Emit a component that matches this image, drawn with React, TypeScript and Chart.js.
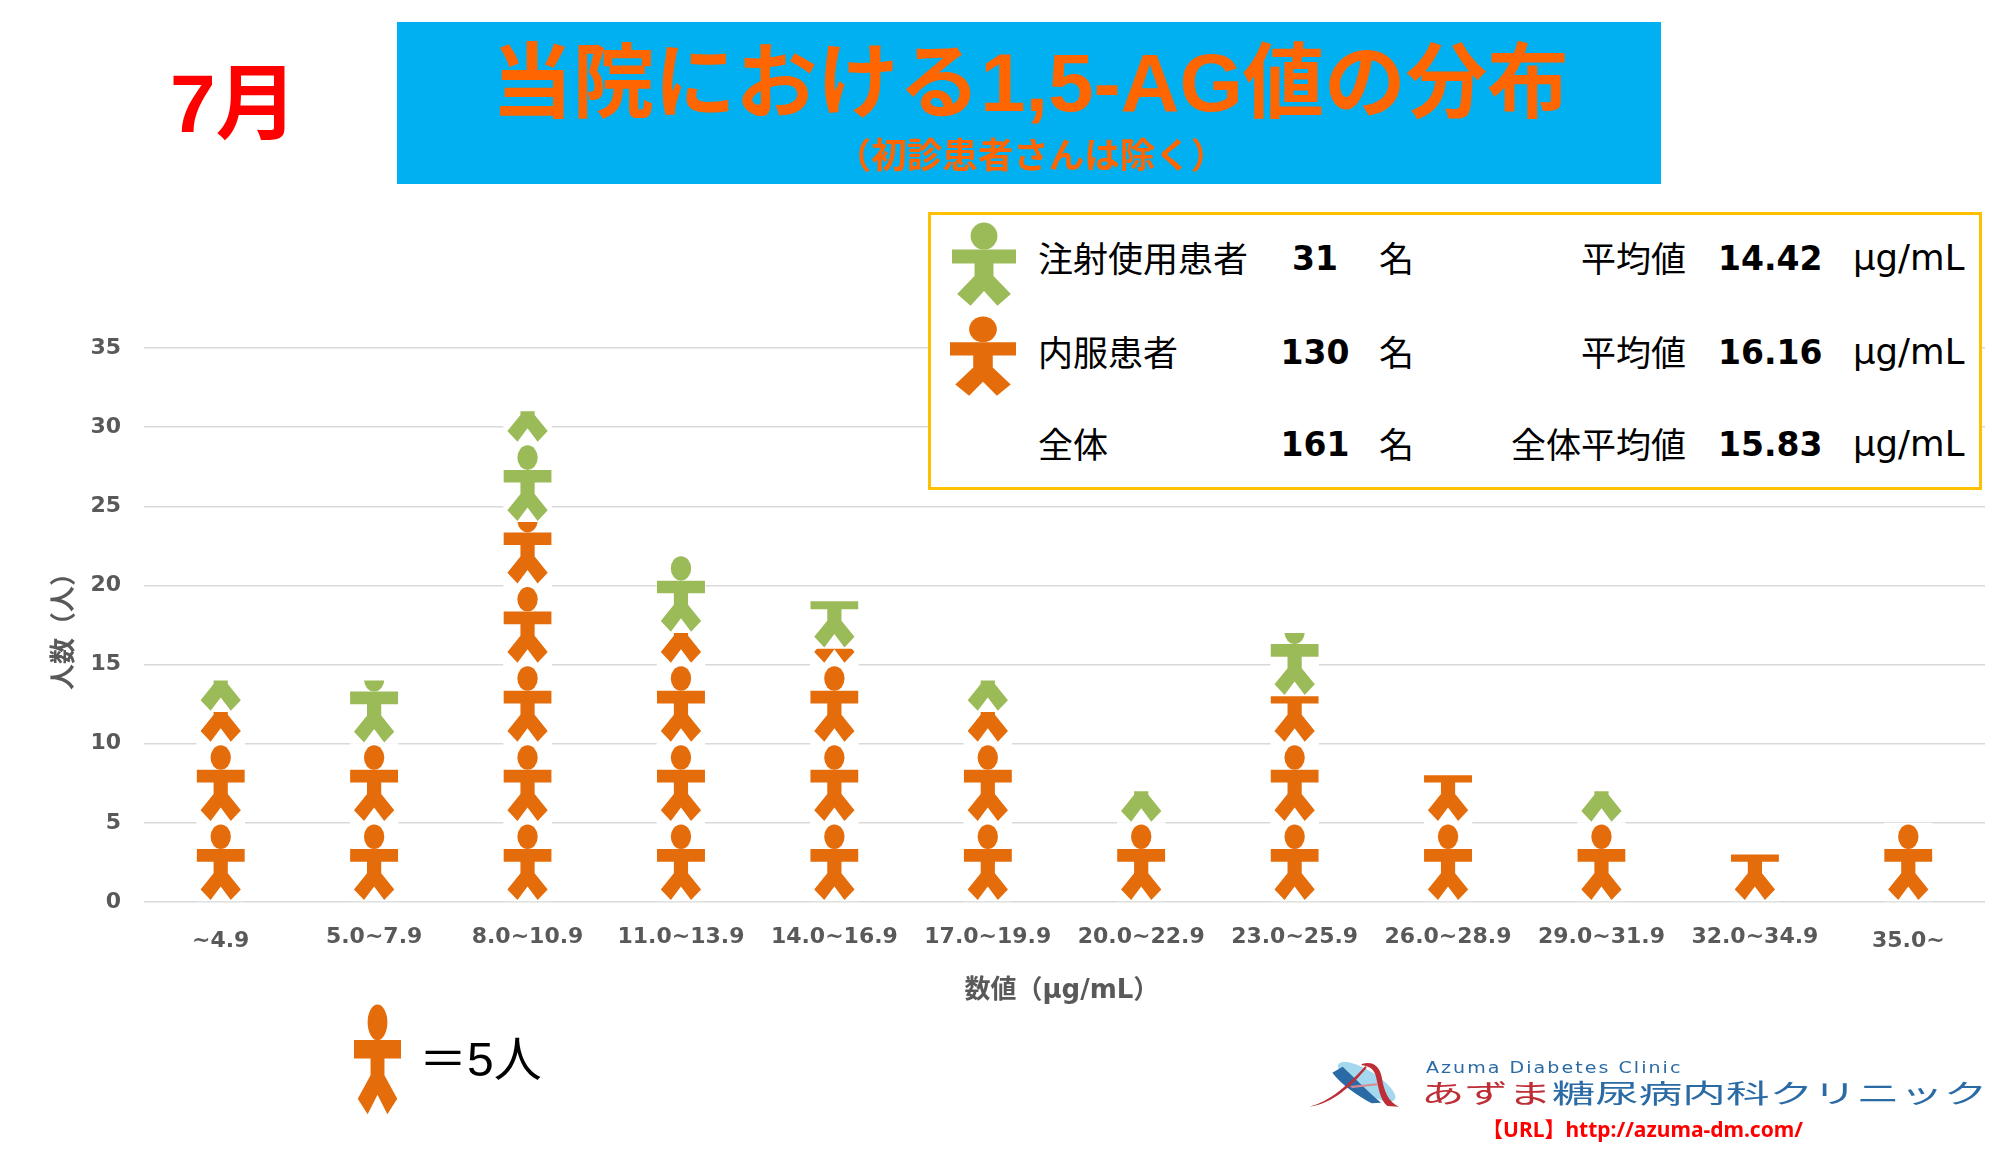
import React, { useEffect, useRef } from "react";
import { Chart, registerables } from "chart.js";

Chart.register(...registerables);

const categories = ["~4.9", "5.0~7.9", "8.0~10.9", "11.0~13.9", "14.0~16.9", "17.0~19.9", "20.0~22.9", "23.0~25.9", "26.0~28.9", "29.0~31.9", "32.0~34.9", "35.0~"];
const oralPatients = [12, 10, 24, 17, 16, 12, 5, 13, 8, 5, 3, 5];
const injectionPatients = [2, 4, 7, 5, 3, 2, 2, 4, 0, 2, 0, 0];
const yTicksMax = 35;
const yTickStep = 5;
const unitPerIcon = 5;

const ORANGE = "#E46C0A";
const GREEN = "#9BBB59";
const CJK = '"Noto Sans CJK JP"';
const LATIN_BOLD = '"DejaVu Sans"';

const summaryRows = [
  { label: "注射使用患者", count: "31", meanLabel: "平均値", mean: "14.42", y: 258 },
  { label: "内服患者", count: "130", meanLabel: "平均値", mean: "16.16", y: 352 },
  { label: "全体", count: "161", meanLabel: "全体平均値", mean: "15.83", y: 444 },
];

// Icon outline, unit cell: u -0.5..0.5 across, w 0..1 downward
const BODY: [number, number][] = [
  [-0.5, 0.34], [0.5, 0.34], [0.5, 0.5], [0.148, 0.5], [0.148, 0.645], [0.42, 0.85], [0.21, 0.985],
  [0, 0.815], [-0.21, 0.985], [-0.42, 0.85], [-0.148, 0.645], [-0.148, 0.5], [-0.5, 0.5],
];
const HEAD = { cy: 0.185, rx: 0.21, ry: 0.155 };

const iconPlugin = {
  id: "iconStack",
  beforeDraw(chart: any) {
    const items = chart.scales.x.getLabelItems(chart.chartArea);
    if (!items.__shifted) {
      items.__shifted = true;
      [0, items.length - 1].forEach((i: number) => {
        items[i].options.translation = [items[i].options.translation[0], items[i].options.translation[1] + 4];
      });
    }
  },
  afterDatasetsDraw(chart: any) {
    const { ctx, scales } = chart;
    const unit = Math.abs(scales.y.getPixelForValue(unitPerIcon) - scales.y.getPixelForValue(0));
    chart.data.datasets.forEach((ds: any, di: number) => {
      chart.getDatasetMeta(di).data.forEach((bar: any) => {
        const { x, y, base, width } = bar.getProps(["x", "y", "base", "width"], true);
        if (base - y < 0.5) return;
        ctx.save();
        ctx.beginPath();
        ctx.rect(x - width / 2, y, width, base - y);
        ctx.clip();
        ctx.fillStyle = ds.iconColor;
        for (let k = 0; base - k * unit > y; k++) {
          const top = base - (k + 1) * unit;
          ctx.beginPath();
          BODY.forEach(([u, w], i) => {
            const px = x + u * width * 0.99;
            const py = top + w * unit;
            if (i === 0) ctx.moveTo(px, py);
            else ctx.lineTo(px, py);
          });
          ctx.closePath();
          ctx.fill();
          ctx.beginPath();
          ctx.ellipse(x, top + HEAD.cy * unit, HEAD.rx * width, HEAD.ry * unit, 0, 0, Math.PI * 2);
          ctx.fill();
        }
        ctx.restore();
      });
    });
  },
};

function Icon({ color, left, top, width, height }: any) {
  return (
    <svg style={{ position: "absolute", left, top, width, height }} viewBox="-0.5 0 1 1" preserveAspectRatio="none">
      <polygon points={BODY.map((p) => p.join(",")).join(" ")} fill={color} />
      <ellipse cx={0} cy={HEAD.cy} rx={HEAD.rx} ry={HEAD.ry} fill={color} />
    </svg>
  );
}

function T({ left, right, cy, size, color = "#000", weight = 400, family = CJK, children, extra }: any) {
  return (
    <div
      style={{
        position: "absolute",
        left,
        right: right !== undefined ? 1993 - right : undefined,
        top: cy,
        transform: "translateY(-50%)",
        fontSize: size,
        color,
        fontWeight: weight,
        fontFamily: family,
        whiteSpace: "nowrap",
        lineHeight: 1.2,
        ...extra,
      }}
    >
      {children}
    </div>
  );
}

function LogoMark() {
  return (
    <svg style={{ position: "absolute", left: 1300, top: 1050, width: 110, height: 70 }} viewBox="0 0 330 210">
      <ellipse cx={200} cy={95} rx={100} ry={32} transform="rotate(32 200 95)" fill="#A3D8EF" />
      <path d="M97 68 L128 50 C165 85 205 125 243 158 L215 160 C170 135 125 105 97 68 Z" fill="#2A6BA5" />
      <path d="M28 170 C90 155 150 100 196 48 L200 53 C155 108 95 162 28 170 Z" fill="#BE2E36" />
      <path d="M185 42 C215 32 238 45 245 80 C252 125 265 155 297 170 L262 168 C240 150 235 110 228 80 C222 55 205 48 185 46 Z" fill="#BE2E36" />
      <path d="M150 108 L232 100 L233 106 L156 114 Z" fill="#D98A90" />
    </svg>
  );
}

export default function App() {
  const ref = useRef<HTMLCanvasElement>(null);
  useEffect(() => {
    const chart = new Chart(ref.current as HTMLCanvasElement, {
      type: "bar",
      data: {
        labels: categories,
        datasets: [
          { label: "内服患者", data: oralPatients, backgroundColor: "#FFFFFF", iconColor: ORANGE } as any,
          { label: "注射使用患者", data: injectionPatients, backgroundColor: "#FFFFFF", iconColor: GREEN } as any,
        ],
      },
      plugins: [iconPlugin],
      options: {
        animation: false,
        responsive: false,
        devicePixelRatio: 1,
        layout: { padding: { left: 0, right: 8, top: 348, bottom: 0 } },
        plugins: { legend: { display: false }, title: { display: false }, tooltip: { enabled: false } },
        datasets: { bar: { categoryPercentage: 1, barPercentage: 0.316 } },
        scales: {
          x: {
            stacked: true,
            afterFit: (s: any) => { s.height = 259; },
            grid: { display: false },
            border: { display: false },
            ticks: {
              autoSkip: false,
              maxRotation: 0,
              padding: 14,
              color: "#595959",
              font: { family: LATIN_BOLD, size: 22, weight: "bold" },
            },
            title: {
              display: true,
              text: "数値（μg/mL）\u2009",
              color: "#595959",
              font: { family: `${LATIN_BOLD},${CJK}`, size: 26, weight: "bold" },
              padding: { top: 0, bottom: 154 },
            },
          },
          y: {
            stacked: true,
            min: 0,
            max: yTicksMax,
            afterFit: (s: any) => { s.width = 144; },
            grid: { color: "#D9D9D9", lineWidth: 1.5, drawTicks: false },
            border: { display: false },
            ticks: {
              stepSize: yTickStep,
              padding: 23,
              color: "#595959",
              font: { family: LATIN_BOLD, size: 22, weight: "bold" },
            },
            title: {
              display: true,
              text: "人数（人）",
              color: "#595959",
              font: { family: `${LATIN_BOLD},${CJK}`, size: 26, weight: "bold" },
              padding: { top: 50, bottom: 0 },
            },
          },
        },
      } as any,
    });
    return () => chart.destroy();
  }, []);

  return (
    <div style={{ position: "absolute", left: 0, top: 0, width: 1993, height: 1161, overflow: "hidden", background: "#fff" }}>
      <style>{`body{margin:0}`}</style>
      <canvas ref={ref} width={1993} height={1161} style={{ display: "block" }} />

      <T left={170} cy={104} size={82} color="#FF0000" weight={700} family={`"Liberation Sans",${CJK}`}>7月</T>

      <div style={{ position: "absolute", left: 397, top: 22, width: 1264, height: 162, background: "#00B0F0" }} />
      <T left={0} cy={83} size={81.5} color="#FF6600" weight={700} family={`"Liberation Sans",${CJK}`} extra={{ width: 2060, textAlign: "center" }}>
        当院における1,5-AG値の分布
      </T>
      <T left={0} cy={153} size={35.5} color="#FF6600" weight={700} extra={{ width: 2062, textAlign: "center" }}>
        （初診患者さんは除く）
      </T>

      <div style={{ position: "absolute", left: 928, top: 212, width: 1054, height: 278, boxSizing: "border-box", border: "3px solid #FFC000", background: "#fff" }} />
      <Icon color={GREEN} left={952} top={220} width={64} height={87} />
      <Icon color={ORANGE} left={950} top={314} width={66} height={83} />
      {summaryRows.map((r) => (
        <React.Fragment key={r.label}>
          <T left={1038} cy={r.y - 1} size={35}>{r.label}</T>
          <T left={1265} cy={r.y + 1} size={33} weight={700} family={LATIN_BOLD} extra={{ width: 100, textAlign: "center" }}>{r.count}</T>
          <T left={1379} cy={r.y - 1} size={35}>名</T>
          <T right={1686} cy={r.y - 1} size={35}>{r.meanLabel}</T>
          <T left={1718} cy={r.y + 1} size={33} weight={700} family={LATIN_BOLD}>{r.mean}</T>
          <T left={1853} cy={r.y} size={35.5} family='"DejaVu Sans"'>μg/mL</T>
        </React.Fragment>
      ))}

      <Icon color={ORANGE} left={354} top={1001} width={47} height={115} />
      <T left={419} cy={1060} size={48} family={`"Liberation Sans",${CJK}`}>＝5人</T>

      <LogoMark />
      <T left={1426} cy={1068} size={15} color="#2A6BA5" family='"DejaVu Sans"' extra={{ letterSpacing: "1.6px", transform: "translateY(-50%) scaleX(1.27)", transformOrigin: "left center" }}>
        Azuma Diabetes Clinic
      </T>
      <T left={1421} cy={1092} size={26} color="#2A6BA5" extra={{ transform: "translateY(-50%) scaleX(1.675)", transformOrigin: "left center" }}>
        <span style={{ color: "#BE2E36" }}>あずま</span>糖尿病内科クリニック
      </T>
      <T left={1482} cy={1130} size={21} color="#FF0000" weight={700} family={`"Noto Sans",${CJK}`}>【URL】http://azuma-dm.com/</T>
    </div>
  );
}
